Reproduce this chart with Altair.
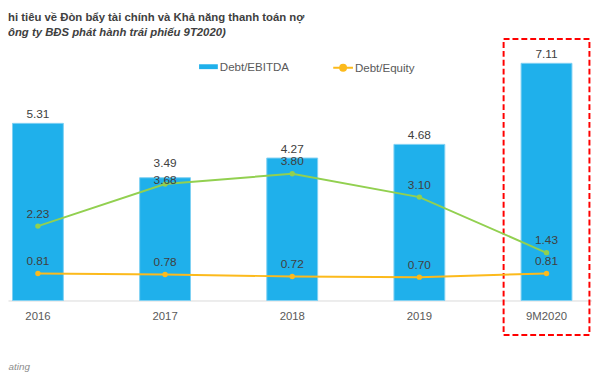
import altair as alt
import pandas as pd

# ---- data ----
periods = ["2016", "2017", "2018", "2019", "9M2020"]
debt_ebitda = [5.31, 3.68, 4.27, 4.68, 7.11]
debt_ebitda_labels = ["5.31", "3.49", "4.27", "4.68", "7.11"]
green_series = [2.23, 3.49, 3.80, 3.10, 1.43]
green_labels = ["2.23", "3.68", "3.80", "3.10", "1.43"]
debt_equity = [0.81, 0.78, 0.72, 0.70, 0.81]
debt_equity_labels = ["0.81", "0.78", "0.72", "0.70", "0.81"]

title_text = "hi tiêu về Đòn bẩy tài chính và Khả năng thanh toán nợ"
subtitle_text = "ông ty BĐS phát hành trái phiếu 9T2020)"
source_text = "ating"
highlight_period = "9M2020"

df = pd.DataFrame({
    "period": periods,
    "ebitda": debt_ebitda,
    "ebitda_label": debt_ebitda_labels,
    "green": green_series,
    "green_label": green_labels,
    "equity": debt_equity,
    "equity_label": debt_equity_labels,
})

BLUE = "#1FB0EB"
GREEN = "#92D050"
ORANGE = "#FCBA1C"
RED = "#FF0000"
TXT = "#404040"
GRAY = "#595959"
FONT = "Liberation Sans"

yscale = alt.Scale(domain=[0, 7.6], nice=False)

x = alt.X(
    "period:N", sort=periods,
    scale=alt.Scale(paddingInner=0.6, paddingOuter=0.0965, align=0.183),
    axis=alt.Axis(
        title=source_text, labelAngle=0, ticks=False, domainColor="#D9D9D9",
        labelColor=GRAY, labelFontSize=11.5, labelFont=FONT, labelPadding=10.5,
        titleFont=FONT, titleFontSize=10, titleFontStyle="italic",
        titleFontWeight="normal", titleColor="#8C8C8C", titleAnchor="start",
        titleAlign="left", titleX=0, titleY=67, titleBaseline="middle",
    ),
)

base = alt.Chart(df)

bars = base.transform_calculate(s1="'Debt/EBITDA'").mark_bar(
    stroke="#7FD0F3", strokeWidth=1
).encode(
    x=x,
    y=alt.Y("ebitda:Q", scale=yscale, axis=None),
    fill=alt.Fill(
        "s1:N",
        scale=alt.Scale(domain=["Debt/EBITDA"], range=[BLUE]),
        legend=alt.Legend(
            title=None, orient="none", legendX=193.7, legendY=10.5,
            symbolType="M-1,-0.26H1V0.26H-1Z", symbolSize=361,
            symbolStrokeWidth=0, labelFont=FONT, labelFontSize=11.7,
            labelColor=GRAY, labelOffset=2, padding=0,
        ),
    ),
)

box = base.transform_filter(alt.datum.period == highlight_period).mark_bar(
    width=87, fillOpacity=0, stroke=RED, strokeWidth=2, strokeDash=[6, 3]
).encode(x=x, y=alt.value(-8), y2=alt.value(292))

green_line = base.mark_line(color=GREEN, strokeWidth=2).encode(
    x=x, y=alt.Y("green:Q", scale=yscale, axis=None)
)
green_pts = base.mark_circle(color=GREEN, size=30, opacity=1).encode(
    x=x, y=alt.Y("green:Q", scale=yscale, axis=None)
)

eq_line = base.transform_calculate(s2="'Debt/Equity'").mark_line(strokeWidth=2).encode(
    x=x,
    y=alt.Y("equity:Q", scale=yscale, axis=None),
    stroke=alt.Stroke(
        "s2:N",
        scale=alt.Scale(domain=["Debt/Equity"], range=[ORANGE]),
        legend=alt.Legend(
            title=None, orient="none", legendX=328.7, legendY=10,
            symbolType="M-1,0H1M0.3,0A0.3,0.3,0,1,1,-0.3,0A0.3,0.3,0,1,1,0.3,0Z",
            symbolSize=400, symbolStrokeWidth=2, symbolFillColor=ORANGE,
            labelFont=FONT, labelFontSize=11.7, labelColor=GRAY,
            labelOffset=1, padding=0,
        ),
    ),
)
eq_pts = base.mark_circle(color=ORANGE, size=30, opacity=1).encode(
    x=x, y=alt.Y("equity:Q", scale=yscale, axis=None)
)

def labels(field, text_field, dy, cond):
    return base.transform_filter(cond).mark_text(
        dy=dy, fontSize=12, font=FONT, color=TXT, baseline="alphabetic"
    ).encode(
        x=x, y=alt.Y(f"{field}:Q", scale=yscale, axis=None), text=f"{text_field}:N"
    )

is17 = alt.datum.period == "2017"
not17 = alt.datum.period != "2017"
lab_bar = labels("ebitda", "ebitda_label", -5.5, not17)
lab_bar17 = labels("ebitda", "ebitda_label", -10.5, is17)
lab_green = labels("green", "green_label", -8.7, not17)
lab_green17 = labels("green", "green_label", 0, is17)
lab_eq = labels("equity", "equity_label", -8.4, alt.datum.period != "")

chart = alt.layer(
    bars, box, green_line, green_pts, eq_line, eq_pts,
    lab_bar, lab_bar17, lab_green, lab_green17, lab_eq,
).resolve_legend(fill="independent", stroke="independent").properties(
    width=592, height=257,
    autosize=alt.AutoSizeParams(type="none"),
    padding={"left": 0, "top": 37, "right": 0, "bottom": 72},
    title=alt.TitleParams(
        text=title_text, subtitle=subtitle_text, anchor="start", frame="group",
        font=FONT, fontSize=11.5, fontWeight="bold", color=TXT,
        subtitleFont=FONT, subtitleFontSize=11.5, subtitleFontWeight="bold",
        subtitleFontStyle="italic", subtitleColor=TXT, offset=0,
        subtitlePadding=3,
    ),
).configure_view(stroke=None)

chart.save("out.html", embed_options={"renderer": "svg", "actions": False})
